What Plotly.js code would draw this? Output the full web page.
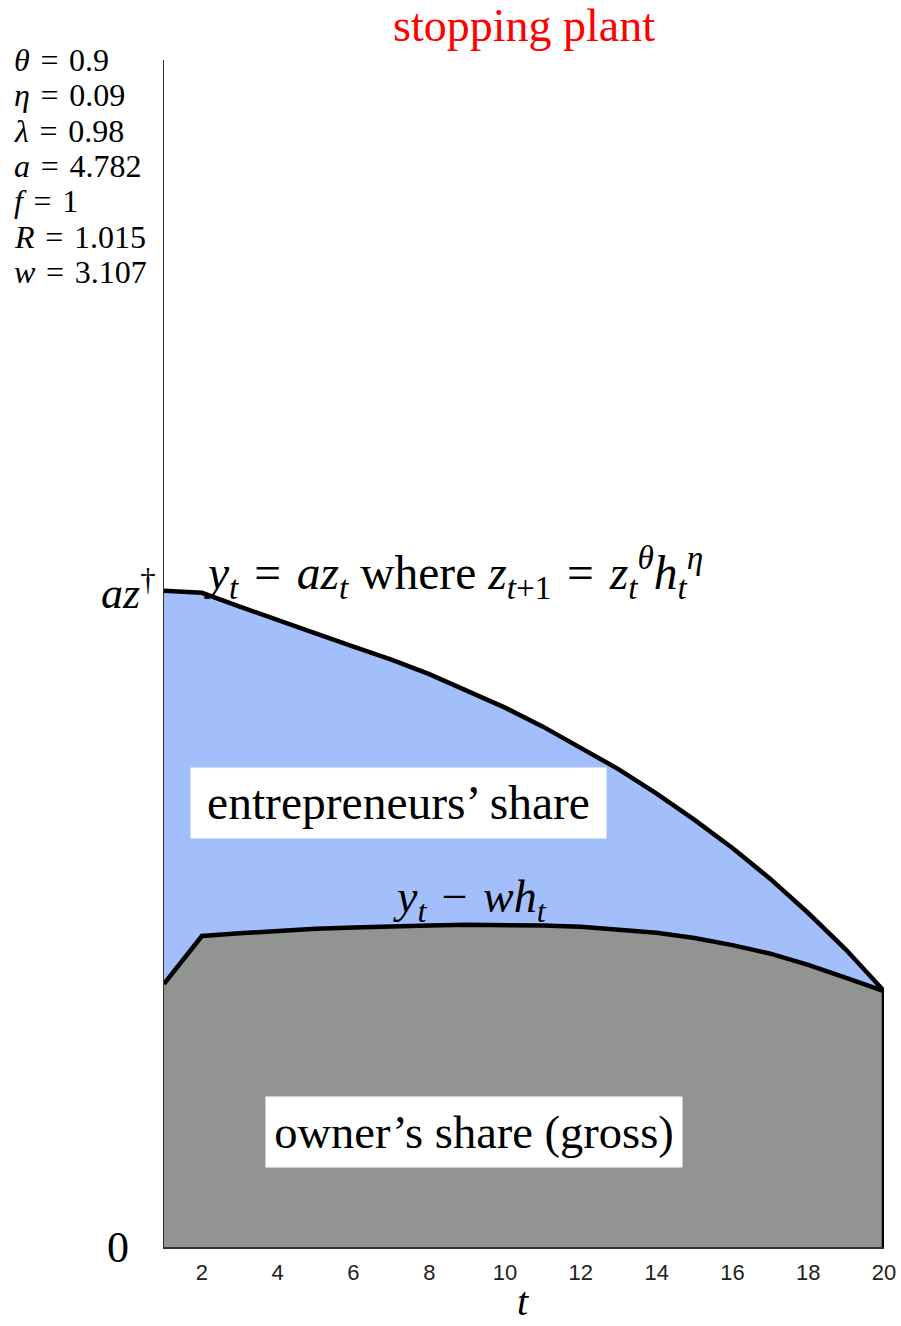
<!DOCTYPE html>
<html>
<head>
<meta charset="utf-8">
<script src="https://cdn.plot.ly/plotly-3.0.1.min.js"></script>
<style>
  html, body { margin: 0; padding: 0; background: #fff; }
  #chart { width: 901px; height: 1326px; }
</style>
</head>
<body>
<div id="chart"></div>
<script>
// Periods of the plant's life
const t = [1, 2, 3, 4, 5, 6, 7, 8, 9, 10, 11, 12, 13, 14, 15, 16, 17, 18, 19, 20];

// Output y_t = a z_t (top boundary)
const output = [10.00, 9.97, 9.76, 9.55, 9.35, 9.15, 8.95, 8.73, 8.48, 8.22,
                7.93, 7.61, 7.28, 6.91, 6.51, 6.08, 5.61, 5.09, 4.53, 3.90];

// Output net of wages y_t - w h_t (owner's gross share)
const netOfWages = [4.01, 4.74, 4.78, 4.82, 4.85, 4.87, 4.89, 4.90, 4.91, 4.91,
                    4.90, 4.88, 4.84, 4.79, 4.71, 4.60, 4.47, 4.30, 4.10, 3.90];

// Value of a z-dagger, used for the upper reference tick
const azDagger = 10.0;
const yMax = 18.09;

const xTicks = [2, 4, 6, 8, 10, 12, 14, 16, 18, 20];

// Model parameters printed in the top-left corner
const EQ = '\u2004=\u2004';
const paramLines = [
  '<i>θ</i>' + EQ + '0.9',
  '<i>η</i>' + EQ + '0.09',
  '<i>λ</i>' + EQ + '0.98',
  '<i>a</i>' + EQ + '4.782',
  '<i>f</i>' + EQ + '1',
  '<i>R</i>' + EQ + '1.015',
  '<i>w</i>' + EQ + '3.107'
];

const SERIF = 'Liberation Serif, Times New Roman, serif';
const BLUE = 'rgb(162,191,251)';
const GRAY = 'rgb(146,148,146)';
const LINE_W = 4.5;

const lastT = t[t.length - 1];
const lastNet = netOfWages[netOfWages.length - 1];

const traces = [
  {
    x: t, y: netOfWages, type: 'scatter', mode: 'lines',
    fill: 'tozeroy', fillcolor: GRAY,
    line: { color: '#000', width: LINE_W },
    cliponaxis: false, hoverinfo: 'skip'
  },
  {
    x: t, y: output, type: 'scatter', mode: 'lines',
    fill: 'tonexty', fillcolor: BLUE,
    line: { color: '#000', width: LINE_W },
    cliponaxis: false, hoverinfo: 'skip'
  },
  {
    // closing edge of the owner's area at the final period
    x: [lastT, lastT], y: [0, lastNet], type: 'scatter', mode: 'lines',
    line: { color: '#000', width: LINE_W },
    cliponaxis: false, hoverinfo: 'skip'
  }
];

const annotations = [];

// helpers converting pixel offsets inside the figure to paper units
const plotLeft = 164, plotW = 720, plotTop = 60, plotH = 1187;
function px2x(px) { return (px - plotLeft) / plotW; }
function py2y(py) { return (plotTop + plotH - py) / plotH; }

paramLines.forEach((txt, i) => {
  annotations.push({
    text: txt, xref: 'paper', yref: 'paper',
    x: px2x(12), y: py2y(60 + i * 35.3),
    xanchor: 'left', yanchor: 'middle', showarrow: false,
    font: { family: SERIF, size: 32, color: '#000' }
  });
});

// y-axis reference labels
annotations.push({
  text: '0', xref: 'paper', yref: 'y', x: px2x(118), y: 0,
  xanchor: 'center', yanchor: 'middle', showarrow: false,
  font: { family: SERIF, size: 44, color: '#000' }
});
annotations.push({
  text: '<i>az</i><sup>†</sup>', xref: 'paper', yref: 'y', x: px2x(158), y: azDagger,
  xanchor: 'right', yanchor: 'middle', showarrow: false,
  font: { family: SERIF, size: 44, color: '#000' }
});

// x-axis title
annotations.push({
  text: '<i>t</i>', xref: 'paper', yref: 'paper', x: px2x(523), y: py2y(1301),
  xanchor: 'center', yanchor: 'middle', showarrow: false,
  font: { family: SERIF, size: 40, color: '#000' }
});

// curve labels
annotations.push({
  text: '<i>y</i><sub><i>t</i></sub>' + EQ + '<i>az</i><sub><i>t</i></sub> where <i>z</i><sub><i>t</i>+1</sub>' + EQ +
        '<i>z</i><sub><i>t</i></sub><sup><i>θ</i></sup><i>h</i><sub><i>t</i></sub><sup><i>η</i></sup>',
  xref: 'paper', yref: 'paper', x: px2x(202), y: py2y(572),
  xanchor: 'left', yanchor: 'middle', showarrow: false,
  font: { family: SERIF, size: 47.5, color: '#000' }
});
annotations.push({
  text: '<i>y</i><sub><i>t</i></sub>\u2004−\u2004<i>wh</i><sub><i>t</i></sub>',
  xref: 'paper', yref: 'paper', x: px2x(470), y: py2y(900),
  xanchor: 'center', yanchor: 'middle', showarrow: false,
  font: { family: SERIF, size: 46, color: '#000' }
});

// area labels in white boxes
annotations.push({
  text: 'entrepreneurs’ share',
  xref: 'paper', yref: 'paper', x: px2x(398.5), y: py2y(803),
  xanchor: 'center', yanchor: 'middle', showarrow: false,
  bgcolor: '#fff', borderpad: 0, width: 415, height: 70,
  font: { family: SERIF, size: 47.5, color: '#000' }
});
annotations.push({
  text: 'owner’s share (gross)',
  xref: 'paper', yref: 'paper', x: px2x(474), y: py2y(1132),
  xanchor: 'center', yanchor: 'middle', showarrow: false,
  bgcolor: '#fff', borderpad: 0, width: 416, height: 70,
  font: { family: SERIF, size: 46.5, color: '#000' }
});

const layout = {
  width: 901, height: 1326,
  margin: { l: 164, r: 17, t: 60, b: 79 },
  paper_bgcolor: '#fff', plot_bgcolor: '#fff',
  showlegend: false,
  title: {
    text: 'stopping plant',
    font: { family: SERIF, size: 46, color: '#ff0000' },
    xref: 'paper', x: 0.5, xanchor: 'center',
    yref: 'container', y: 1 - 25 / 1326, yanchor: 'middle'
  },
  xaxis: {
    range: [1, 20], tickvals: xTicks, ticks: '',
    showgrid: false, zeroline: false,
    showline: true, linecolor: '#333', linewidth: 1.5,
    ticklabelstandoff: 5,
    tickfont: { family: 'Liberation Sans, Arial, sans-serif', size: 22, color: '#222' }
  },
  yaxis: {
    range: [0, yMax], showticklabels: false, ticks: '',
    showgrid: false, zeroline: false,
    showline: true, linecolor: '#333', linewidth: 1
  },
  annotations: annotations
};

Plotly.newPlot('chart', traces, layout, { displayModeBar: false, staticPlot: true });
</script>
</body>
</html>
